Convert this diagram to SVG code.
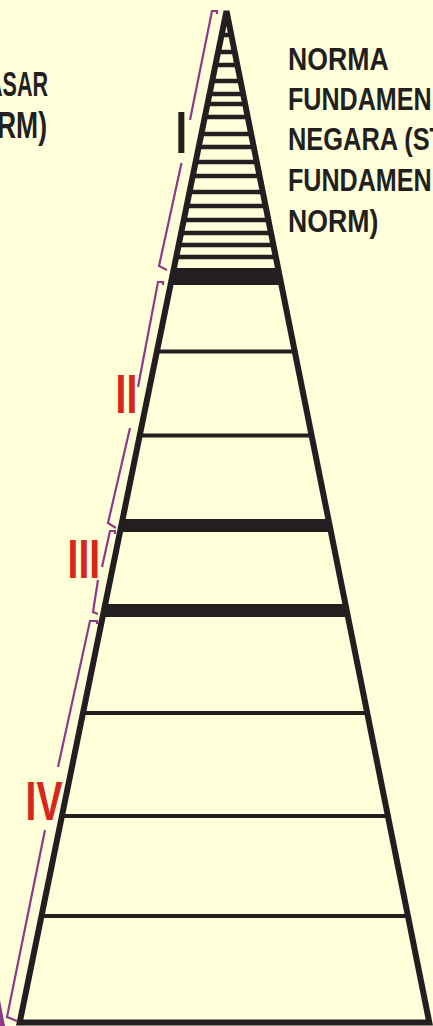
<svg xmlns="http://www.w3.org/2000/svg" width="433" height="1026" viewBox="0 0 433 1026">
<style>
.rule{stroke:#231f20;stroke-width:4}
.rule1{stroke:#231f20;stroke-width:4.5}
.band{fill:#231f20}
.br{fill:none;stroke:#8d3b86;stroke-width:2.2;stroke-linejoin:miter}
.lbl{font-family:"Liberation Sans",Arial,sans-serif;font-weight:bold;fill:#231f20}
.num{font-family:"Liberation Sans",Arial,sans-serif;font-weight:bold;fill:#d9261c}
</style>
<defs>
<clipPath id="tri"><polygon points="226.5,11 19.7,1022.5 429.3,1022.5"/></clipPath>
</defs>
<rect id="background" width="433" height="1026" fill="#ffffd9"/>
<g id="pyramid">
 <g id="layers" clip-path="url(#tri)">
  <line class="rule1" x1="0" x2="433" y1="35" y2="35"/>
  <line class="rule1" x1="0" x2="433" y1="52" y2="52"/>
  <line class="rule1" x1="0" x2="433" y1="65" y2="65"/>
  <line class="rule1" x1="0" x2="433" y1="81" y2="81"/>
  <line class="rule1" x1="0" x2="433" y1="94" y2="94"/>
  <line class="rule1" x1="0" x2="433" y1="104" y2="104"/>
  <line class="rule1" x1="0" x2="433" y1="117" y2="117"/>
  <line class="rule1" x1="0" x2="433" y1="134" y2="134"/>
  <line class="rule1" x1="0" x2="433" y1="147" y2="147"/>
  <line class="rule1" x1="0" x2="433" y1="162" y2="162"/>
  <line class="rule1" x1="0" x2="433" y1="176" y2="176"/>
  <line class="rule1" x1="0" x2="433" y1="192" y2="192"/>
  <line class="rule1" x1="0" x2="433" y1="206" y2="206"/>
  <line class="rule1" x1="0" x2="433" y1="220" y2="220"/>
  <line class="rule1" x1="0" x2="433" y1="233" y2="233"/>
  <line class="rule1" x1="0" x2="433" y1="245" y2="245"/>
  <line class="rule1" x1="0" x2="433" y1="257" y2="257"/>
  <rect class="band" x="0" y="268" width="433" height="17"/>
  <line class="rule" x1="0" x2="433" y1="351.5" y2="351.5"/>
  <line class="rule" x1="0" x2="433" y1="435.5" y2="435.5"/>
  <rect class="band" x="0" y="519" width="433" height="13"/>
  <rect class="band" x="0" y="604" width="433" height="13"/>
  <line class="rule" x1="0" x2="433" y1="713" y2="713"/>
  <line class="rule" x1="0" x2="433" y1="816" y2="816"/>
  <line class="rule" x1="0" x2="433" y1="916" y2="916"/>
 </g>
 <polygon id="outline" points="226.5,11 19.7,1022.5 429.3,1022.5" fill="none" stroke="#231f20" stroke-width="6" stroke-linejoin="miter" stroke-miterlimit="4"/>
</g>
<g id="connectors">
 <polyline class="br" points="217,14 217,11 212,11 190,120"/>
 <polyline class="br" points="181.5,163 159,266 167,270"/>
 <polyline class="br" points="163,285 163,282 158,282 138,387"/>
 <polyline class="br" points="130,428 108,523 116,528"/>
 <polyline class="br" points="115,534 115,531 110,531 102,567"/>
 <polyline class="br" points="98,580 93,612 98,614"/>
 <polyline class="br" points="97,624 97,621 90,621 58,767"/>
 <polyline class="br" points="45,830 7,1017 17,1021"/>
 <polygon points="0,1000 5,1026 0,1026" fill="#8d3b86"/>
</g>
<g id="numerals">
 <text id="num-I" class="lbl" font-size="60" transform="translate(175.5,153) scale(0.7,1)">I</text>
 <text id="num-II" class="num" font-size="56" transform="translate(115.5,413) scale(0.7,1)">II</text>
 <text id="num-III" class="num" font-size="56" transform="translate(67.5,578) scale(0.7,1)">III</text>
 <text id="num-IV" class="num" font-size="56" transform="translate(25.5,820) scale(0.7,1)">IV</text>
</g>
<g id="label-left">
 <text class="lbl" font-size="36" transform="translate(-13,96) scale(0.6,1)">ASAR</text>
 <text class="lbl" font-size="36" x="-3" y="138" textLength="50" lengthAdjust="spacingAndGlyphs">RM)</text>
</g>
<g id="label-right">
 <text class="lbl" font-size="31" transform="translate(288,70) scale(0.86,1)">NORMA</text>
 <text class="lbl" font-size="31" transform="translate(288,110) scale(0.81,1)">FUNDAMEN</text>
 <text class="lbl" font-size="31" transform="translate(288,150) scale(0.82,1)">NEGARA (ST</text>
 <text class="lbl" font-size="31" transform="translate(288,191) scale(0.81,1)">FUNDAMEN</text>
 <text class="lbl" font-size="31" transform="translate(288,232) scale(0.86,1)">NORM)</text>
</g>
</svg>
